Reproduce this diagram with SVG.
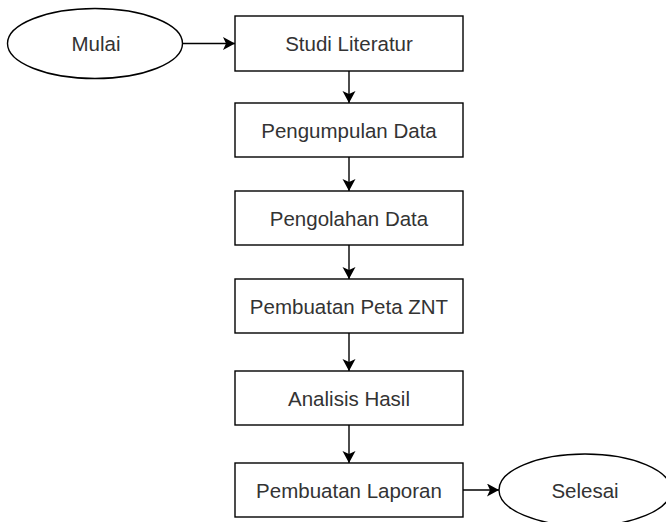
<svg xmlns="http://www.w3.org/2000/svg" width="666" height="522" viewBox="0 0 666 522">
<style>
.shape{fill:#fff;stroke:#000;stroke-width:1.4}
.lbl{font-family:"Liberation Sans",Arial,sans-serif;font-size:20.5px;fill:#333;text-anchor:middle}
.conn{fill:none;stroke:#000;stroke-width:1.4}
</style>
<defs>
<marker id="arr" markerUnits="userSpaceOnUse" markerWidth="14" markerHeight="14" refX="12" refY="6.5" orient="auto">
<path d="M0,0 L12,6.5 L0,13 L3,6.5 Z" fill="#000"/>
</marker>
</defs>
<rect width="666" height="522" fill="#fff"/>
<g id="connectors">
<line class="conn" x1="182.5" y1="43.5" x2="235" y2="43.5" marker-end="url(#arr)"/>
<line class="conn" x1="349" y1="71" x2="349" y2="103" marker-end="url(#arr)"/>
<line class="conn" x1="349" y1="157" x2="349" y2="191" marker-end="url(#arr)"/>
<line class="conn" x1="349" y1="245" x2="349" y2="279" marker-end="url(#arr)"/>
<line class="conn" x1="349" y1="333" x2="349" y2="371" marker-end="url(#arr)"/>
<line class="conn" x1="349" y1="425" x2="349" y2="463" marker-end="url(#arr)"/>
<line class="conn" x1="463" y1="490" x2="499" y2="490" marker-end="url(#arr)"/>
</g>
<g id="mulai">
<ellipse class="shape" cx="95" cy="43.5" rx="87.5" ry="35"/>
<text class="lbl" x="96" y="51">Mulai</text>
</g>
<g id="studi-literatur">
<rect class="shape" x="235" y="16" width="228" height="55"/>
<text class="lbl" x="349" y="51">Studi Literatur</text>
</g>
<g id="pengumpulan-data">
<rect class="shape" x="235" y="103" width="228" height="54"/>
<text class="lbl" x="349" y="138">Pengumpulan Data</text>
</g>
<g id="pengolahan-data">
<rect class="shape" x="235" y="191" width="228" height="54"/>
<text class="lbl" x="349" y="226">Pengolahan Data</text>
</g>
<g id="pembuatan-peta">
<rect class="shape" x="235" y="279" width="228" height="54"/>
<text class="lbl" x="349" y="314">Pembuatan Peta ZNT</text>
</g>
<g id="analisis-hasil">
<rect class="shape" x="235" y="371" width="228" height="54"/>
<text class="lbl" x="349" y="406">Analisis Hasil</text>
</g>
<g id="pembuatan-laporan">
<rect class="shape" x="235" y="463" width="228" height="54"/>
<text class="lbl" x="349" y="498">Pembuatan Laporan</text>
</g>
<g id="selesai">
<ellipse class="shape" cx="585" cy="490" rx="86" ry="36"/>
<text class="lbl" x="585" y="498">Selesai</text>
</g>
</svg>
